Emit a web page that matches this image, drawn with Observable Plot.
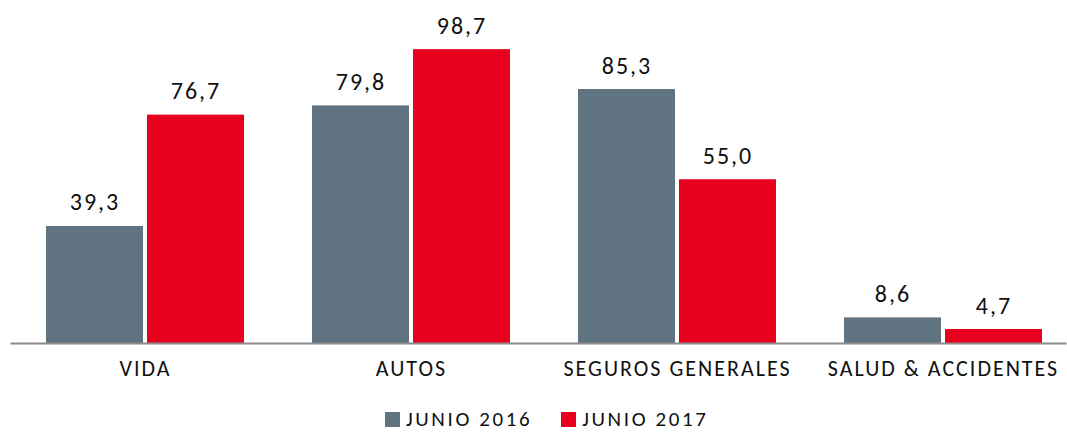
<!DOCTYPE html>
<html>
<head>
<meta charset="utf-8">
<script src="https://cdn.jsdelivr.net/npm/d3@7"></script>
<script src="https://cdn.jsdelivr.net/npm/@observablehq/plot@0.6"></script>
<style>
  html, body { margin: 0; padding: 0; background: #fff; }
  body { position: relative; width: 1067px; height: 434px; overflow: hidden; font-family: Carlito, Calibri, Lato, sans-serif; }
  #legend { position: absolute; left: 385px; top: 409px; display: flex; align-items: center; height: 21px; line-height: 21px; font-size: 21px; letter-spacing: 2.6px; color: #111; white-space: nowrap; }
  .sw { display: inline-block; width: 15px; height: 15px; margin-right: 6px; }
  .item { display: flex; align-items: center; margin-right: 29px; }
</style>
</head>
<body>
<div id="chart"></div>
<div id="legend"></div>
<script>
const categories = ["VIDA", "AUTOS", "SEGUROS GENERALES", "SALUD & ACCIDENTES"];
const series = ["JUNIO 2016", "JUNIO 2017"];
const values2016 = [39.3, 79.8, 85.3, 8.6];
const values2017 = [76.7, 98.7, 55.0, 4.7];
const colors = ["#607380", "#e8001f"];

const data = [];
categories.forEach((c, i) => {
  data.push({category: c, series: series[0], value: values2016[i]});
  data.push({category: c, series: series[1], value: values2017[i]});
});

const fmt = v => v.toFixed(1).replace(".", ",");

const chart = Plot.plot({
  width: 1067,
  height: 390,
  marginLeft: 10,
  marginRight: 0,
  marginTop: 0,
  marginBottom: 47,
  style: {fontFamily: "Carlito, Calibri, Lato, sans-serif", fontSize: "22px", letterSpacing: "2px", color: "#111", background: "#fff"},
  fx: {domain: categories, paddingInner: 0.2466, paddingOuter: 0.105, align: 0.589, label: null, tickSize: 0, tickPadding: 17, axis: "bottom"},
  x: {domain: series, paddingInner: 0.035, paddingOuter: 0, axis: null},
  y: {domain: [0, 115.2], axis: null},
  color: {domain: series, range: colors},
  marks: [
    Plot.barY(data, {fx: "category", x: "series", y: "value", fill: "series"}),
    Plot.text(data, {fx: "category", x: "series", y: "value", text: d => fmt(d.value), dy: -16, lineAnchor: "bottom", fontSize: 24, fill: "#111", style: "letter-spacing:1px"}),
    Plot.frame({anchor: "bottom", stroke: "#8c8c8c", strokeWidth: 2, facet: "super", insetLeft: -34, insetRight: -22})
  ]
});
document.getElementById("chart").appendChild(chart);

const legend = document.getElementById("legend");
series.forEach((s, i) => {
  const item = document.createElement("span");
  item.className = "item";
  const sw = document.createElement("span");
  sw.className = "sw";
  sw.style.background = colors[i];
  item.appendChild(sw);
  item.appendChild(document.createTextNode(s));
  legend.appendChild(item);
});
</script>
</body>
</html>
